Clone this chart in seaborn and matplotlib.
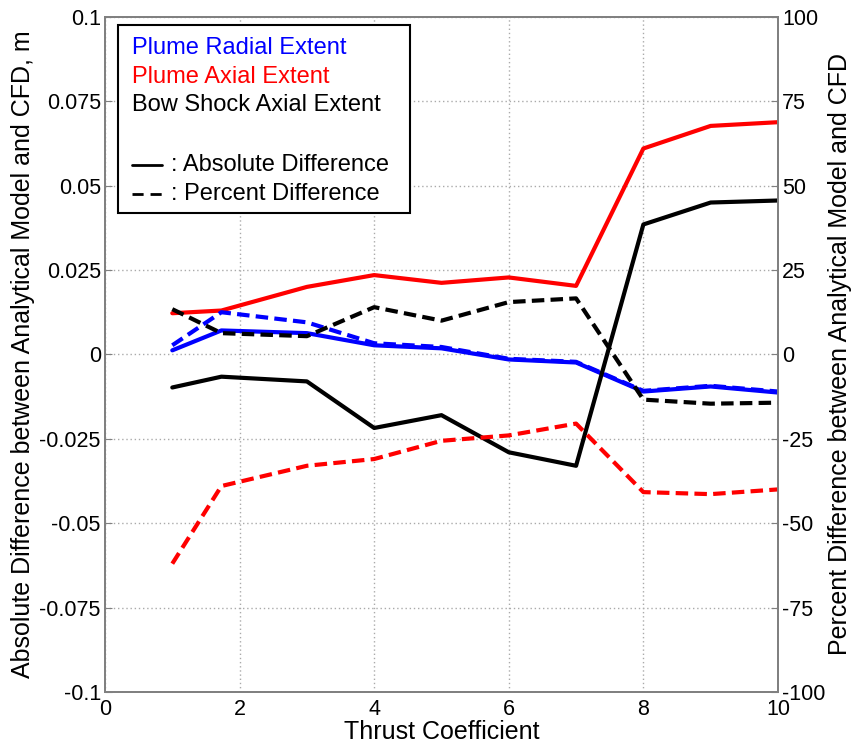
import numpy as np
import pandas as pd
import matplotlib
matplotlib.use("Agg")
import matplotlib.pyplot as plt
from matplotlib.lines import Line2D
from matplotlib.patches import Rectangle
import seaborn as sns

# === Data ===
thrust = [1, 1.73, 3, 4, 5, 6, 7, 8, 9, 10]

radial_abs = [0.0012, 0.0071, 0.0063, 0.0027, 0.0018, -0.0015, -0.0024, -0.0110, -0.0095, -0.0113]
axial_abs = [0.0122, 0.0130, 0.0200, 0.0235, 0.0212, 0.0228, 0.0203, 0.0610, 0.0677, 0.0688]
bow_abs = [-0.0098, -0.0066, -0.0080, -0.0218, -0.0180, -0.0290, -0.0330, 0.0385, 0.0450, 0.0456]

radial_pct = [2.7, 12.5, 9.5, 3.3, 2.2, -1.3, -2.2, -10.8, -9.3, -11.0]
axial_pct = [-62.0, -39.0, -33.0, -31.0, -25.6, -24.0, -20.5, -40.8, -41.4, -40.0]
bow_pct = [13.4, 6.3, 5.4, 14.0, 10.0, 15.5, 16.6, -13.4, -14.6, -14.3]

series = ["Plume Radial Extent", "Plume Axial Extent", "Bow Shock Axial Extent"]
colors = {"Plume Radial Extent": "#0000ff",
          "Plume Axial Extent": "#ff0000",
          "Bow Shock Axial Extent": "#000000"}

left_ticks = [-0.1, -0.075, -0.05, -0.025, 0, 0.025, 0.05, 0.075, 0.1]
right_ticks = [-100, -75, -50, -25, 0, 25, 50, 75, 100]
x_ticks = [0, 2, 4, 6, 8, 10]

df_abs = pd.DataFrame({
    "Thrust": thrust * 3,
    "Value": radial_abs + axial_abs + bow_abs,
    "Series": np.repeat(series, len(thrust)),
})
df_pct = pd.DataFrame({
    "Thrust": thrust * 3,
    "Value": radial_pct + axial_pct + bow_pct,
    "Series": np.repeat(series, len(thrust)),
})

# === Style ===
sns.set_style("white")
plt.rcParams["font.family"] = ["Liberation Sans", "DejaVu Sans"]
plt.rcParams["axes.unicode_minus"] = False
plt.rcParams["text.color"] = "black"
plt.rcParams["axes.labelcolor"] = "black"
plt.rcParams["xtick.color"] = "black"
plt.rcParams["ytick.color"] = "black"

fig = plt.figure(figsize=(8.55, 7.44), dpi=100)
ax = fig.add_axes([0.1228, 0.0700, 0.7871, 0.9073])
ax2 = ax.twinx()

sns.lineplot(data=df_abs, x="Thrust", y="Value", hue="Series", palette=colors,
             hue_order=series, linewidth=3, ax=ax, legend=False, sort=False)
sns.lineplot(data=df_pct, x="Thrust", y="Value", hue="Series", palette=colors,
             hue_order=series, linewidth=3, ax=ax2, legend=False, sort=False)
for ln in ax2.get_lines():
    ln.set_dashes((3, 1.5))

# === Axes ===
ax.set_xlim(0, 10)
ax.set_ylim(-0.1, 0.1)
ax2.set_ylim(-100, 100)
ax.set_xticks(x_ticks)
ax.set_yticks(left_ticks)
ax.set_yticklabels([str(v) for v in left_ticks])
ax2.set_yticks(right_ticks)
ax2.set_yticklabels([str(v) for v in right_ticks])

ax.set_xlabel("Thrust Coefficient", fontsize=18, labelpad=0)
ax.set_ylabel("Absolute Difference between Analytical Model and CFD, m", fontsize=18, labelpad=3)
ax2.set_ylabel("Percent Difference between Analytical Model and CFD", fontsize=18, labelpad=2)

ax.grid(True, linestyle=(0, (1, 2)), color="#aaaaaa", linewidth=1)
for a in (ax, ax2):
    for s in a.spines.values():
        s.set_color("#808080")
        s.set_linewidth(1.3)
    a.tick_params(direction="in", length=5, color="#808080", labelcolor="black",
                  labelsize=15.5, pad=3)
ax.tick_params(axis="x", pad=5)

# === Custom legend box ===
ax.add_patch(Rectangle((0.0193, 0.710), 0.434, 0.278, transform=ax.transAxes,
                       facecolor="white", edgecolor="black", linewidth=1.5, zorder=10))
ty = [0.954, 0.911, 0.869]
for name, y in zip(series, ty):
    ax.text(0.040, y, name, color=colors[name], transform=ax.transAxes,
            fontsize=17, va="center", ha="left", zorder=11)
ax.add_line(Line2D([0.040, 0.084], [0.780, 0.780], transform=ax.transAxes,
                   color="black", linewidth=2, zorder=11))
ax.add_line(Line2D([0.040, 0.084], [0.738, 0.738], transform=ax.transAxes,
                   color="black", linewidth=2, dashes=(4, 2.5), zorder=11))
ax.text(0.098, 0.780, ": Absolute Difference", transform=ax.transAxes,
        fontsize=17, va="center", ha="left", zorder=11)
ax.text(0.098, 0.738, ": Percent Difference", transform=ax.transAxes,
        fontsize=17, va="center", ha="left", zorder=11)

fig.savefig("out.png", dpi=100)
